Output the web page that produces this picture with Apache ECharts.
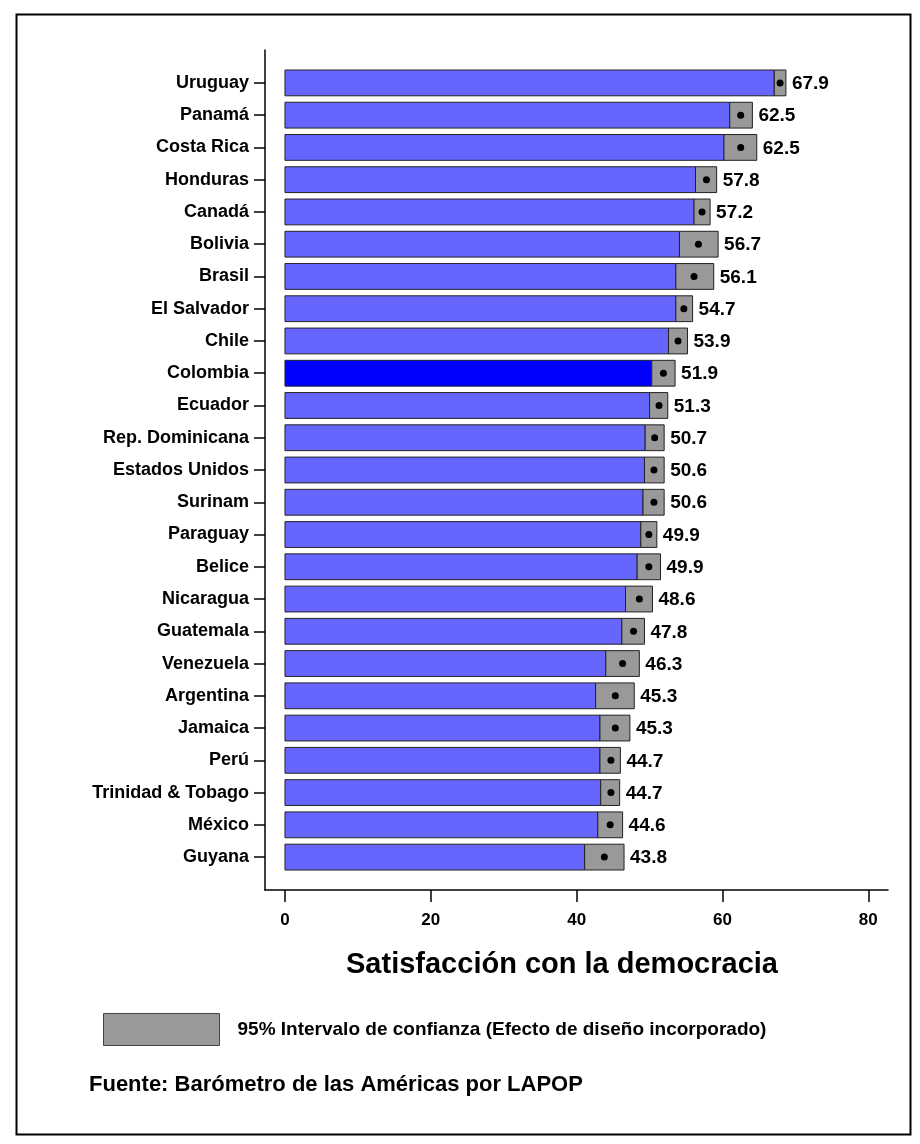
<!DOCTYPE html>
<html>
<head>
<meta charset="utf-8">
<script src="https://cdn.jsdelivr.net/npm/echarts@6/dist/echarts.min.js"></script>
<style>
html,body{margin:0;padding:0;background:#fff;}
#chart{width:920px;height:1144px;}
</style>
</head>
<body>
<div id="chart"></div>
<script>
const countries = ["Uruguay","Panamá","Costa Rica","Honduras","Canadá","Bolivia","Brasil","El Salvador","Chile","Colombia","Ecuador","Rep. Dominicana","Estados Unidos","Surinam","Paraguay","Belice","Nicaragua","Guatemala","Venezuela","Argentina","Jamaica","Perú","Trinidad & Tobago","México","Guyana"];
const values = [67.9,62.5,62.5,57.8,57.2,56.7,56.1,54.7,53.9,51.9,51.3,50.7,50.6,50.6,49.9,49.9,48.6,47.8,46.3,45.3,45.3,44.7,44.7,44.6,43.8];
const ciLow  = [67.1,61.0,60.2,56.3,56.1,54.1,53.6,53.6,52.6,50.3,50.0,49.4,49.3,49.1,48.8,48.3,46.7,46.2,44.0,42.6,43.2,43.2,43.3,42.9,41.1];
const ciHigh = [68.7,64.1,64.7,59.2,58.3,59.4,58.8,55.9,55.2,53.5,52.5,52.0,52.0,52.0,51.0,51.5,50.4,49.3,48.6,47.9,47.3,46.0,45.9,46.3,46.5];
const highlight = "Colombia";
const xTicks = [0,20,40,60,80];
const axisTitle = "Satisfacción con la democracia";
const legendLabel = "95% Intervalo de confianza (Efecto de diseño incorporado)";
const sourceText = "Fuente: Barómetro de las Américas por LAPOP";

const FONT = '"Liberation Sans", Arial, sans-serif';
const rowIdx = countries.map((c, i) => i);
const data = countries.map((c, i) => [i, values[i], ciLow[i], ciHigh[i]]);

const chart = echarts.init(document.getElementById('chart'), null, {renderer: 'canvas'});

const option = {
  animation: false,
  backgroundColor: '#ffffff',
  grid: {left: 265, right: 32, top: 50, bottom: 254, containLabel: false},
  title: {
    text: sourceText,
    left: 89, top: 1074, padding: 0,
    textStyle: {fontFamily: FONT, fontWeight: 'bold', fontSize: 22, color: '#000'}
  },
  legend: {
    left: 103, top: 1013, padding: 0,
    itemWidth: 116, itemHeight: 32,
    data: [{name: legendLabel, icon: 'rect', itemStyle: {color: '#999999', borderColor: '#444444', borderWidth: 1}}],
    textStyle: {fontFamily: FONT, fontWeight: 'bold', fontSize: 19, color: '#000', padding: [0,0,0,13]},
    selectedMode: false
  },
  xAxis: {
    type: 'value',
    min: -2.74, max: 82.7,
    name: axisTitle,
    nameLocation: 'middle',
    nameGap: 60,
    nameTextStyle: {fontFamily: FONT, fontWeight: 'bold', fontSize: 29, color: '#000', padding: [0, 29, 0, 0]},
    axisLine: {show: true, onZero: false, lineStyle: {color: '#000', width: 1.5}},
    axisTick: {show: true, length: 12, lineStyle: {color: '#000', width: 1.5}, customValues: xTicks},
    axisLabel: {fontFamily: FONT, fontWeight: 'bold', fontSize: 17, color: '#000', margin: 22, customValues: xTicks},
    splitLine: {show: false}
  },
  yAxis: {
    type: 'value',
    inverse: true,
    min: -1.02, max: 25.02,
    axisLine: {show: true, onZero: false, lineStyle: {color: '#000', width: 1.5}},
    axisTick: {show: true, length: 11, lineStyle: {color: '#000', width: 1.5}, customValues: rowIdx},
    axisLabel: {
      fontFamily: FONT, fontWeight: 'bold', fontSize: 18, color: '#000', margin: 16,
      customValues: rowIdx,
      formatter: v => countries[Math.round(v)] || ''
    },
    splitLine: {show: false}
  },
  series: [{
    type: 'custom',
    name: legendLabel,
    itemStyle: {color: '#999999'},
    encode: {x: [1,2,3], y: 0},
    data: data,
    renderItem: function (params, api) {
      const i = api.value(0);
      const v = api.value(1), lo = api.value(2), hi = api.value(3);
      const p0 = api.coord([0, i]);
      const pLo = api.coord([lo, i]);
      const pHi = api.coord([hi, i]);
      const pV = api.coord([v, i]);
      const h = api.size([0, 1])[1] * 0.8;
      const y = p0[1] - h / 2;
      const isHi = countries[i] === highlight;
      return {
        type: 'group',
        children: [
          {type: 'rect', shape: {x: p0[0], y: y, width: pLo[0] - p0[0], height: h},
           style: {fill: isHi ? '#0000ff' : '#6666ff', stroke: '#222', lineWidth: 1}},
          {type: 'rect', shape: {x: pLo[0], y: y, width: pHi[0] - pLo[0], height: h},
           style: {fill: '#999999', stroke: '#222', lineWidth: 1}},
          {type: 'circle', shape: {cx: pV[0], cy: pV[1], r: 3.5}, style: {fill: '#000'}},
          {type: 'text', style: {x: pHi[0] + 6, y: pV[1] + 1, text: v.toFixed(1),
            font: 'bold 19px ' + FONT, fill: '#000', verticalAlign: 'middle', align: 'left'}}
        ]
      };
    }
  }],
  graphic: [{
    type: 'rect', left: 14, top: 12, silent: true,
    shape: {width: 894, height: 1120},
    style: {fill: 'none', stroke: '#000', lineWidth: 2}
  }]
};
chart.setOption(option);
</script>
</body>
</html>
